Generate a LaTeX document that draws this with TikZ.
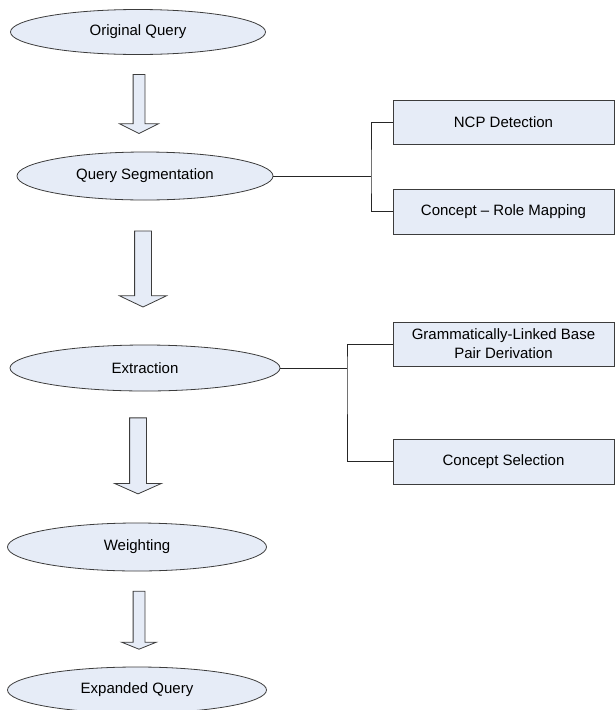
\documentclass[tikz,border=0pt]{standalone}
\usepackage{fontspec}
\setmainfont{Liberation Sans}
\usetikzlibrary{positioning, shapes, shapes.arrows}
\definecolor{stagefill}{RGB}{230,236,247}
\definecolor{stageline}{RGB}{60,60,60}
\tikzstyle{stage} = [draw=stageline, fill=stagefill, ellipse,
    inner sep=0pt, line width=0.8pt, font=\fontsize{15}{18}\selectfont]
\tikzstyle{block} = [draw=stageline, fill=stagefill, rectangle,
    minimum width=221pt, minimum height=44pt, inner sep=0pt,
    align=center, line width=0.8pt, font=\fontsize{15}{19}\selectfont]
\tikzstyle{bigarrow} = [draw=stageline, fill=stagefill, single arrow,
    rotate=-90, inner xsep=0pt, single arrow head indent=0pt,
    line width=0.8pt]
\tikzstyle{link} = [draw=black!85, line width=0.8pt]

\begin{document}
\begin{tikzpicture}[x=1pt, y=1pt]
        \useasboundingbox (0,0) rectangle (615,-710);

        % stages on the left
        \node[
            stage,
            minimum width=255pt, minimum height=45pt
        ](orig) at (138,-32){Original Query};

        \node[
            stage,
            minimum width=256pt, minimum height=48pt
        ](seg) at (145,-176){Query Segmentation};

        \node[
            stage,
            minimum width=270pt, minimum height=46pt
        ](extr) at (145,-368){Extraction};

        \node[
            stage,
            minimum width=259pt, minimum height=48pt
        ](weight) at (137,-547){Weighting};

        \node[
            stage,
            minimum width=259pt, minimum height=46pt
        ](expand) at (137,-690){Expanded Query};

        % steps on the right
        \node[block](ncp) at (503.5,-122){NCP Detection};
        \node[block, minimum height=45pt](crm) at (503.5,-211.5){Concept -- Role Mapping};
        \node[block](glb) at (503.5,-344){Grammatically-Linked Base\\Pair Derivation};
        \node[block, minimum height=45pt](cs) at (503.5,-461.5){Concept Selection};

        % big arrows between the stages
        \node[
            bigarrow,
            minimum height=59pt, minimum width=38pt, inner ysep=5.5pt,
            single arrow head extend=13.5pt, single arrow tip angle=127
        ](a1) at (139,-102.5){};
        \node[
            bigarrow,
            minimum height=76pt, minimum width=46pt, inner ysep=8pt,
            single arrow head extend=15pt, single arrow tip angle=129
        ](a2) at (143,-267){};
        \node[
            bigarrow,
            minimum height=76pt, minimum width=46pt, inner ysep=8pt,
            single arrow head extend=15pt, single arrow tip angle=132
        ](a3) at (138,-454){};
        \node[
            bigarrow,
            minimum height=58pt, minimum width=34pt, inner ysep=5.5pt,
            single arrow head extend=11.5pt, single arrow tip angle=136
        ](a4) at (139,-619){};

        % forks
        \coordinate (segfork) at (371,-176);
        \coordinate (extrfork) at (347,-368);

        \draw[link] (seg.east) -- (segfork);
        \draw[link] (ncp.west) -| (segfork) |- (crm.west);
        \draw[link] (extr.east) -- (extrfork);
        \draw[link] (glb.west) -| (extrfork) |- (cs.west);
    \end{tikzpicture}
\end{document}
